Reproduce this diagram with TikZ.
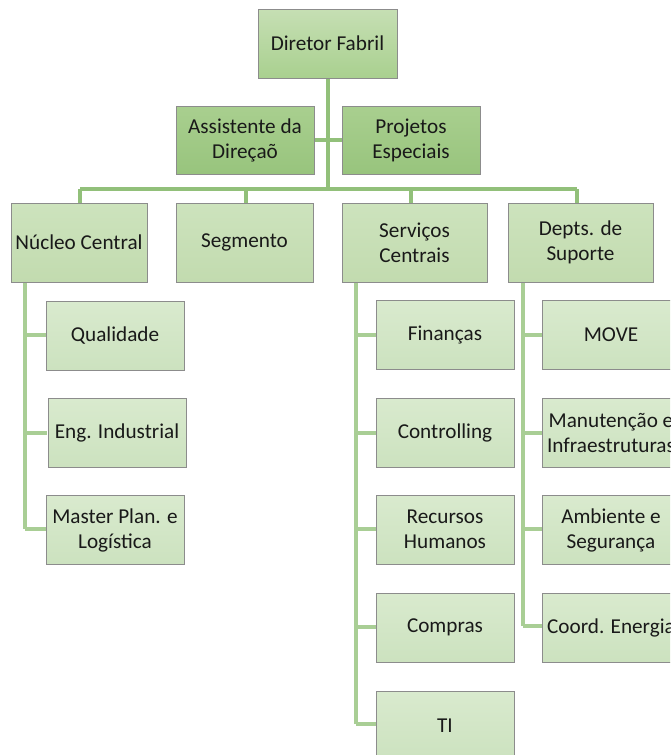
\documentclass[tikz,border=0pt]{standalone}
\usepackage{fontspec}
\setmainfont{Carlito}
\begin{document}
\begin{tikzpicture}[x=1pt,y=-1pt,
  box/.style={draw=black!45, line width=0.9pt, align=center, inner sep=0pt,
    font=\fontsize{21.2}{25}\selectfont, text=black!90},
  lvA/.style={box, top color=lvAt, bottom color=lvAb, minimum width=139pt, minimum height=69pt},
  lvB/.style={box, top color=lvBt, bottom color=lvBb, minimum width=138pt, minimum height=68pt},
  lvC/.style={box, top color=lvCt, bottom color=lvCb, minimum height=79pt},
  lvD/.style={box, top color=lvDt, bottom color=lvDb, minimum width=138pt, minimum height=69pt},
  mainline/.style={draw=lineA, line width=3.2pt},
  subline/.style={draw=lineB, line width=3.2pt}]
\definecolor{lvAt}{HTML}{C6DFB4}
\definecolor{lvAb}{HTML}{A9D08F}
\definecolor{lvBt}{HTML}{A9CF8F}
\definecolor{lvBb}{HTML}{98C47D}
\definecolor{lvCt}{HTML}{CDE3BD}
\definecolor{lvCb}{HTML}{C2DBAF}
\definecolor{lvDt}{HTML}{D9EACE}
\definecolor{lvDb}{HTML}{CCE2BF}
\definecolor{lineA}{HTML}{92C07A}
\definecolor{lineB}{HTML}{A9CE95}
\clip (0,0) rectangle (670,755);
\fill[white] (0,0) rectangle (670,755);

% connectors (drawn first)
\coordinate (bL) at (80,189);
\coordinate (bR) at (577,189);
\coordinate (bS) at (246,189);
\coordinate (bV) at (411,189);
\coordinate (top) at (328,78);
\coordinate (mid) at (328,189);
\draw[mainline] (top) -- (mid);
\draw[mainline] (bL) -- (bR);
\draw[mainline] (314,140) -- (342,140);
\draw[mainline] (bL) -- (80,204);
\draw[mainline] (bS) -- (246,204);
\draw[mainline] (bV) -- (411,204);
\draw[mainline] (bR) -- (577,204);

\coordinate (nA) at (25,282);
\coordinate (nB) at (25,529);
\coordinate (sA) at (356,282);
\coordinate (sB) at (356,724);
\coordinate (dA) at (523,282);
\coordinate (dB) at (523,626);
\draw[subline] (nA) -- (nB);
\draw[subline] (sA) -- (sB);
\draw[subline] (dA) -- (dB);
\foreach \y in {335,433,529} \draw[subline] (25,\y) -- (47,\y);
\foreach \y in {335,433,529,627,724} \draw[subline] (356,\y) -- (377,\y);
\foreach \y in {335,433,529,626} \draw[subline] (523,\y) -- (543,\y);

% boxes
\node[lvA] (dir) at (327.5,43.5) {Diretor Fabril};
\node[lvB] (assist) at (245,140) {Assistente da\\Direçaõ};
\node[lvB] (proj) at (411,140) {Projetos\\Especiais};
\node[lvC, minimum width=136pt] (nuc) at (79,242.5) {Núcleo Central};
\node[lvC, minimum width=137pt] (seg) at (244.5,242.5) {Segmento};
\node[lvC, minimum width=145pt] (serv) at (414.5,242.5) {Serviços\\Centrais};
\node[lvC, minimum width=145pt] (dep) at (580.5,242.5) {Depts. de\\Suporte};

\node[lvD] (qual) at (115,335.5) {Qualidade};
\node[lvD] (eng) at (117,432.5) {Eng. Industrial};
\node[lvD] (mast) at (115,530) {Master Plan. e\\Logística};

\node[lvD] (fin) at (445,335) {Finanças};
\node[lvD] (ctrl) at (445,432.5) {Controlling};
\node[lvD] (rh) at (445,529.5) {Recursos\\Humanos};
\node[lvD] (comp) at (445,627.5) {Compras};
\node[lvD] (ti) at (445,725.5) {TI};

\node[lvD] (move) at (611,335) {MOVE};
\node[lvD] (manu) at (611,432.5) {Manutenção e\\Infraestruturas};
\node[lvD] (amb) at (611,530) {Ambiente e\\Segurança};
\node[lvD] (coord) at (611,627.5) {Coord. Energia};
\end{tikzpicture}
\end{document}
